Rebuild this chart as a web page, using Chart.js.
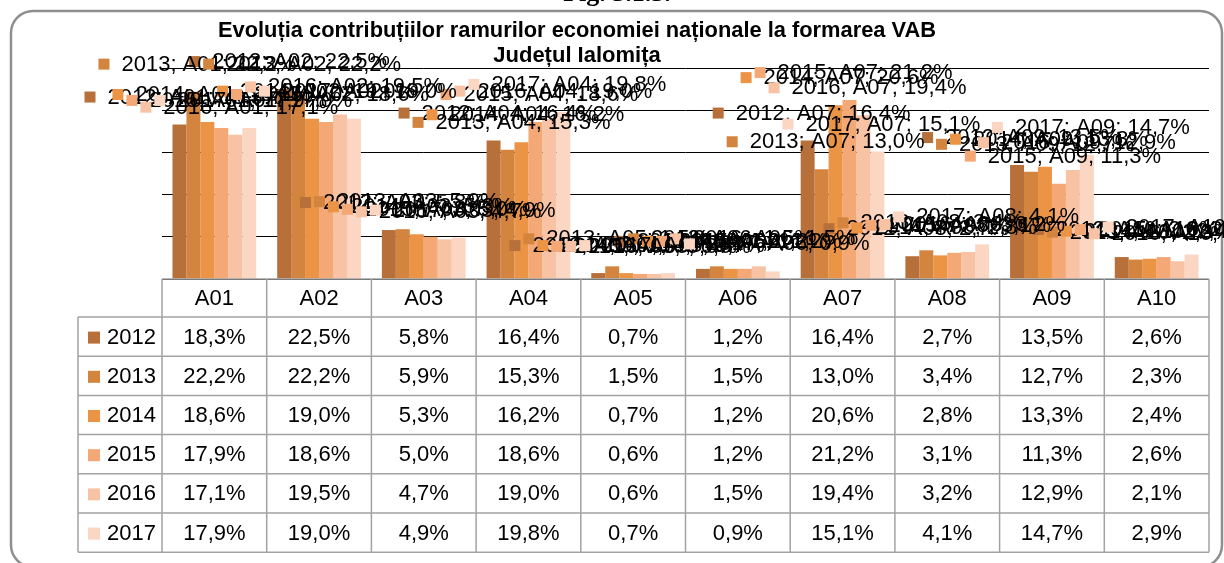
<!DOCTYPE html>
<html>
<head>
<meta charset="utf-8">
<script src="https://cdn.jsdelivr.net/npm/chart.js@4.4.0/dist/chart.umd.min.js"></script>
<style>
  body { margin: 0; background: #fff; }
  #wrap { width: 1224px; height: 563px; position: relative; }
</style>
</head>
<body>
<div id="wrap"><canvas id="myChart"></canvas></div>
<script>
const categories = ["A01", "A02", "A03", "A04", "A05", "A06", "A07", "A08", "A09", "A10"];
const years = ["2012", "2013", "2014", "2015", "2016", "2017"];
const colors = ["#B7703A", "#D3843F", "#EC9446", "#F3A876", "#F7C3A4", "#FAD6C3"];

const v2012 = [18.3, 22.5, 5.8, 16.4, 0.7, 1.2, 16.4, 2.7, 13.5, 2.6];
const v2013 = [22.2, 22.2, 5.9, 15.3, 1.5, 1.5, 13.0, 3.4, 12.7, 2.3];
const v2014 = [18.6, 19.0, 5.3, 16.2, 0.7, 1.2, 20.6, 2.8, 13.3, 2.4];
const v2015 = [17.9, 18.6, 5.0, 18.6, 0.6, 1.2, 21.2, 3.1, 11.3, 2.6];
const v2016 = [17.1, 19.5, 4.7, 19.0, 0.6, 1.5, 19.4, 3.2, 12.9, 2.1];
const v2017 = [17.9, 19.0, 4.9, 19.8, 0.7, 0.9, 15.1, 4.1, 14.7, 2.9];
const seriesValues = [v2012, v2013, v2014, v2015, v2016, v2017];

const yMax = 25;
const yStep = 5;

const titleLines = ["Evoluția contribuțiilor ramurilor economiei naționale la formarea VAB", "Județul Ialomița"];
const figText = "Fig. 3.1.5.";

const fmt = v => v.toFixed(1).replace(".", ",") + "%";
const FONT = '22px "Liberation Sans", Arial, sans-serif';

// frame, figure caption and title
const framePlugin = {
    id: "frame",
    beforeDraw(chart) {
        const ctx = chart.ctx;
        ctx.save();
        ctx.fillStyle = "#fff";
        ctx.fillRect(0, 0, chart.width, chart.height);

        ctx.fillStyle = "#000";
        ctx.font = 'bold 26px "Liberation Serif", serif';
        ctx.textAlign = "center";
        ctx.textBaseline = "alphabetic";
        ctx.fillText(figText, 617, 1);

        ctx.strokeStyle = "#8f8f8f";
        ctx.lineWidth = 2.5;
        ctx.beginPath();
        ctx.roundRect(11, 11, 1211, 556, 22);
        ctx.stroke();

        ctx.font = 'bold 22px "Liberation Sans", Arial, sans-serif';
        const w1 = ctx.measureText(titleLines[0]).width;
        const sx = Math.min(1, 718 / w1);
        ctx.save();
        ctx.translate(577, 37);
        ctx.scale(sx, 1);
        ctx.fillText(titleLines[0], 0, 0);
        ctx.restore();
        ctx.fillText(titleLines[1], 577, 62);
        ctx.restore();
    }
};

// Excel-like data labels: key square + "year; category; value"
const labelPlugin = {
    id: "barLabels",
    afterDatasetsDraw(chart) {
        const ctx = chart.ctx;
        ctx.save();
        ctx.font = FONT;
        ctx.textBaseline = "middle";
        ctx.textAlign = "left";
        chart.data.datasets.forEach((ds, i) => {
            const meta = chart.getDatasetMeta(i);
            meta.data.forEach((bar, j) => {
                const txt = years[i] + "; " + categories[j] + "; " + fmt(ds.data[j]);
                const tw = ctx.measureText(txt).width;
                const total = 11 + 12 + tw;
                const x0 = bar.x - total / 2 + 4;
                const y = bar.y - 27;
                ctx.fillStyle = colors[i];
                ctx.fillRect(x0, y - 6, 11, 11);
                ctx.fillStyle = "#000";
                ctx.fillText(txt, x0 + 23, y);
            });
        });
        ctx.restore();
    }
};

// data table under the plot
const tablePlugin = {
    id: "dataTable",
    afterDraw(chart) {
        const ctx = chart.ctx;
        const area = chart.chartArea;
        const xs = chart.scales.x;
        const colW = (area.right - area.left) / categories.length;
        const top = area.bottom;
        const headH = 38;
        const rowH = 39.2;
        const labelLeft = 78;
        const bottom = top + headH + rowH * years.length;

        ctx.save();
        ctx.strokeStyle = "#a3a3a3";
        ctx.lineWidth = 1.5;
        ctx.beginPath();
        ctx.moveTo(area.left, top);
        ctx.lineTo(area.right, top);
        for (let r = 0; r <= years.length; r++) {
            const y = top + headH + r * rowH;
            ctx.moveTo(labelLeft, y);
            ctx.lineTo(area.right, y);
        }
        for (let c = 0; c <= categories.length; c++) {
            const x = area.left + c * colW;
            ctx.moveTo(x, top);
            ctx.lineTo(x, bottom);
        }
        ctx.moveTo(labelLeft, top + headH);
        ctx.lineTo(labelLeft, bottom);
        ctx.stroke();

        ctx.font = FONT;
        ctx.fillStyle = "#000";
        ctx.textBaseline = "middle";
        ctx.textAlign = "center";
        categories.forEach((c, j) => {
            ctx.fillText(c, xs.getPixelForValue(j), top + headH / 2 + 1);
        });
        years.forEach((yr, i) => {
            const yc = top + headH + i * rowH + rowH / 2 + 1;
            ctx.fillStyle = colors[i];
            ctx.fillRect(labelLeft + 10, yc - 6, 12, 12);
            ctx.fillStyle = "#000";
            ctx.textAlign = "left";
            ctx.fillText(yr, labelLeft + 29, yc);
            ctx.textAlign = "center";
            seriesValues[i].forEach((v, j) => {
                ctx.fillText(fmt(v), xs.getPixelForValue(j), yc);
            });
        });
        ctx.restore();
    }
};

const ctx = document.getElementById("myChart").getContext("2d");
const myChart = new Chart(ctx, {
    type: "bar",
    data: {
        labels: categories,
        datasets: years.map((yr, i) => ({
            label: yr,
            data: seriesValues[i],
            backgroundColor: colors[i],
            borderWidth: 0,
            barPercentage: 1,
            categoryPercentage: 0.8
        }))
    },
    options: {
        responsive: true,
        maintainAspectRatio: false,
        animation: false,
        events: [],
        layout: {
            padding: { left: 162, right: 15, top: 68, bottom: 284 }
        },
        plugins: {
            legend: { display: false },
            title: { display: false },
            tooltip: { enabled: false }
        },
        scales: {
            x: {
                display: false
            },
            y: {
                min: 0,
                max: yMax,
                ticks: { display: false, stepSize: yStep },
                grid: { color: "#000", lineWidth: 1, drawTicks: false },
                border: { display: false }
            }
        }
    },
    plugins: [framePlugin, labelPlugin, tablePlugin]
});
</script>
</body>
</html>
